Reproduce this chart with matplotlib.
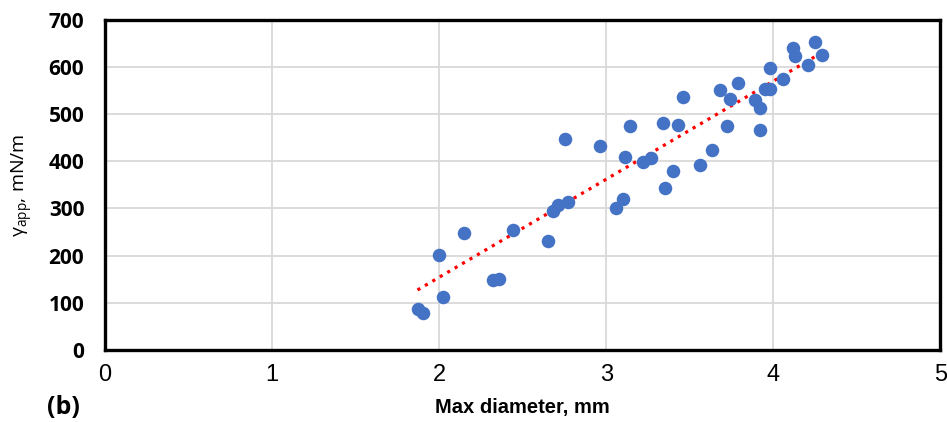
import numpy as np
import matplotlib
matplotlib.use('Agg')
import matplotlib.pyplot as plt

# ---------- data ---------- #
diameter_mm = [1.87, 1.90, 2.00, 2.02, 2.15, 2.32, 2.36, 2.44, 2.65, 2.68,
               2.71, 2.77, 2.75, 2.96, 3.06, 3.10, 3.11, 3.14, 3.22, 3.27,
               3.34, 3.35, 3.40, 3.43, 3.46, 3.56, 3.63, 3.68, 3.72, 3.74,
               3.79, 3.89, 3.92, 3.92, 3.95, 3.98, 3.98, 4.06, 4.12, 4.13,
               4.21, 4.25, 4.29]
gamma_app = [87, 78, 202, 112, 248, 148, 151, 255, 231, 295,
             308, 314, 448, 433, 301, 320, 409, 475, 399, 407,
             482, 344, 380, 477, 537, 392, 424, 552, 475, 532,
             566, 530, 513, 467, 553, 553, 598, 574, 641, 624,
             604, 653, 626]

# linear trendline as drawn in the picture (y = slope*x + intercept)
trend_slope = 208
trend_intercept = -262

x_ticks = [0, 1, 2, 3, 4, 5]
y_ticks = [0, 100, 200, 300, 400, 500, 600, 700]

# ---------- figure ---------- #
fig = plt.figure(figsize=(9.47, 4.22), dpi=100)
ax = fig.add_axes([0.111, 0.171, 0.882, 0.782])

ax.scatter(diameter_mm, gamma_app, s=95, color='#4472C4', zorder=3,
           linewidths=0)

xt = np.array([min(diameter_mm), max(diameter_mm)])
ax.plot(xt, trend_slope * xt + trend_intercept, color='#FF0000',
        linestyle=(0, (1, 1.7)), linewidth=2.3, zorder=2)

ax.set_xlim(0, 5)
ax.set_ylim(0, 700)
ax.set_xticks(x_ticks)
ax.set_yticks(y_ticks)
ax.grid(True, color='#d9d9d9', linewidth=1.3, zorder=0)
ax.set_axisbelow(True)
ax.tick_params(axis='y', length=0, pad=15)
ax.tick_params(axis='x', length=0, pad=10)

for s in ax.spines.values():
    s.set_linewidth(2.4)
    s.set_color('black')

for t in ax.get_yticklabels():
    t.set_fontfamily('Open Sans')
    t.set_fontweight('bold')
    t.set_fontsize(15)
for t in ax.get_xticklabels():
    t.set_fontfamily('Liberation Sans')
    t.set_fontsize(17)

ax.set_xlabel('Max diameter, mm', fontfamily='Liberation Sans',
              fontweight='bold', fontsize=14.5, labelpad=9)
ax.set_ylabel(r'$\mathregular{\gamma_{app}}$, mN/m', fontfamily='Open Sans',
              fontsize=14, labelpad=10)

fig.text(0.05, 0.018, '(b)', fontfamily='Open Sans', fontweight='bold',
         fontsize=18)

fig.savefig('out.png', dpi=100)
